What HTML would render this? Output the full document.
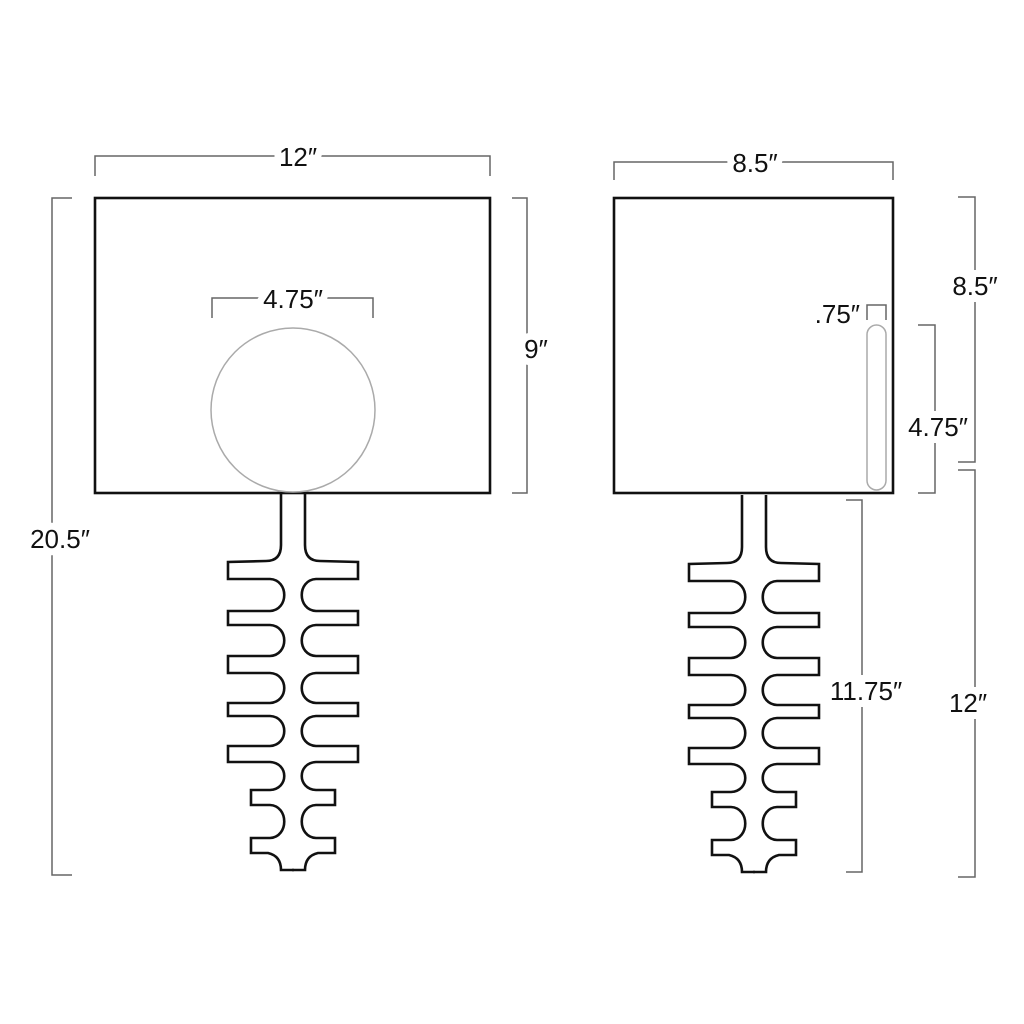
<!DOCTYPE html>
<html><head><meta charset="utf-8"><style>
html,body{margin:0;padding:0;background:#fff;}
svg{display:block;}
text{font-family:"Liberation Sans",sans-serif;font-size:26px;fill:#111;}
.d{stroke:#666;stroke-width:1.5;fill:none;}
.t{paint-order:stroke;stroke:#fff;stroke-width:14px;}
</style></head><body>
<svg width="1024" height="1024" viewBox="0 0 1024 1024" xmlns="http://www.w3.org/2000/svg">
<defs>
<path id="half" fill="none" stroke="#111" stroke-width="2.6" d="M281,493 L281,545 Q281,561 266,561 L228,562 L228,579 L270,579 C289,580 289,610 270,611 L228,611 L228,625 L270,625 C289,626 289,655 270,656 L228,656 L228,673 L270,673 C289,674 289,702 270,703 L228,703 L228,716 L270,716 C289,717 289,745 270,746 L228,746 L228,762 L270,762 C289,763 289,789 270,790 L251,790 L251,805 L270,805 C289,806 289,837 270,838 L251,838 L251,853 L268,853 Q281,856 281,870 L294,870"/>
<g id="fish">
<use href="#half"/>
<use href="#half" transform="translate(586,0) scale(-1,1)"/>
</g>
</defs>
<!-- left view -->
<rect x="95" y="198" width="395" height="295" fill="none" stroke="#111" stroke-width="2.6"/>
<circle cx="293" cy="410" r="82" fill="none" stroke="#aaa" stroke-width="1.5"/>
<use href="#fish"/>
<!-- right view -->
<rect x="614" y="198" width="279" height="295" fill="none" stroke="#111" stroke-width="2.6"/>
<rect x="867" y="325" width="19" height="165" rx="9.5" fill="none" stroke="#aaa" stroke-width="1.5"/>
<use href="#fish" transform="translate(461,2)"/>

<!-- dimensions -->
<path class="d" d="M95,176 V156 H490 V176"/>
<text class="t" x="298" y="166" text-anchor="middle">12″</text>
<path class="d" d="M72,198 H52 V875 H72"/>
<text class="t" x="60" y="548" text-anchor="middle">20.5″</text>
<path class="d" d="M512,198 H527 V493 H512"/>
<text class="t" x="536" y="358" text-anchor="middle">9″</text>
<path class="d" d="M212,318 V298 H373 V318"/>
<text class="t" x="293" y="308" text-anchor="middle">4.75″</text>

<path class="d" d="M614,180 V162 H893 V180"/>
<text class="t" x="755" y="172" text-anchor="middle">8.5″</text>
<path class="d" d="M867,320 V305 H886 V320"/>
<text x="860" y="323" text-anchor="end">.75″</text>
<path class="d" d="M918,325 H935 V493 H918"/>
<text class="t" x="938" y="436" text-anchor="middle">4.75″</text>
<path class="d" d="M958,197 H975 V462 H958"/>
<text class="t" x="975" y="295" text-anchor="middle">8.5″</text>
<path class="d" d="M958,470 H975 V877 H958"/>
<text class="t" x="968" y="712" text-anchor="middle">12″</text>
<path class="d" d="M846,500 H862 V872 H846"/>
<text class="t" x="866" y="700" text-anchor="middle">11.75″</text>
</svg>
</body></html>
